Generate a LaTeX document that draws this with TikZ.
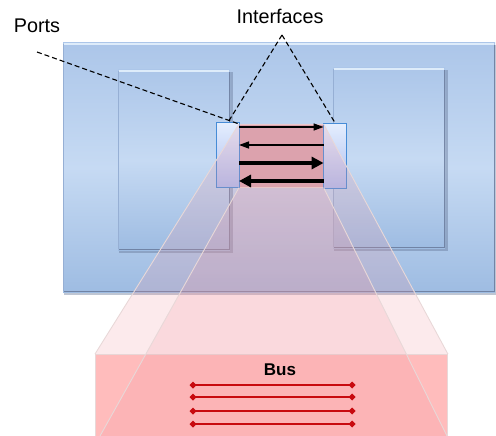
\documentclass[tikz,border=0pt]{standalone}
\usepackage{fontspec}
\setmainfont{Liberation Sans}
\usetikzlibrary{arrows.meta}
\definecolor{bluetop}{RGB}{172,198,233}
\definecolor{bluemid}{RGB}{198,218,243}
\definecolor{bluebot}{RGB}{158,188,226}
\definecolor{blueshade}{RGB}{95,112,145}
\definecolor{bluelight}{RGB}{222,236,250}
\definecolor{blueside}{RGB}{150,175,212}
\definecolor{bluedark}{RGB}{105,122,155}
\definecolor{porttop}{RGB}{228,238,254}
\definecolor{portbot}{RGB}{172,188,238}
\definecolor{portedge}{RGB}{70,140,215}
\definecolor{chanpink}{RGB}{215,166,177}
\definecolor{beampink}{RGB}{240,150,160}
\definecolor{beamedge}{RGB}{232,216,216}
\definecolor{buspink}{RGB}{255,188,188}
\definecolor{wirered}{RGB}{200,10,15}
\tikzset{
  panel/.style={top color=bluetop, bottom color=bluebot, middle color=bluemid, draw=none},
  panelshadow/.style={fill=blueshade, draw=none, opacity=0.4},
  highlight/.style={draw=bluelight, line width=2pt},
  sidebevel/.style={draw=blueside, line width=1.2pt},
  bevel/.style={draw=bluedark, line width=1.5pt, opacity=0.85},
  portbox/.style={draw=portedge, line width=1.3pt, top color=porttop, bottom color=portbot,
    inner sep=0pt, minimum width=23pt, minimum height=65pt, anchor=north west},
  chanbox/.style={fill=chanpink, draw=beamedge, line width=0.6pt, inner sep=0pt,
    minimum width=84pt, minimum height=63pt, anchor=north west},
  beam/.style={fill=beampink, fill opacity=0.2},
  beamline/.style={draw=beamedge, line width=0.9pt},
  thinflow/.style={line width=1.3pt, -{Triangle[length=10pt,width=7pt]}},
  thickflow/.style={line width=3.6pt, -{Triangle[length=12pt,width=12pt]}},
  leader/.style={draw=black, dash pattern=on 5pt off 3pt, line width=1.1pt},
  label/.style={font=\fontsize{19.8}{24}\selectfont, inner sep=0pt, anchor=base},
  wire/.style={draw=wirered, line width=1.5pt,
    {Diamond[length=7pt,width=7pt]}-{Diamond[length=7pt,width=7pt]}}
}
% raised panel: drop shadow, vertical gradient, light top, soft left and dark bottom/right edges
\newcommand\bevelbox[4]{%
  \fill[panelshadow] ({#1+1},{#2+2}) rectangle ({#3+2.5},{#4+3});
  \shade[panel] (#1,#2) rectangle (#3,#4);
  \draw[sidebevel] ({#1+0.6},{#2+1}) -- ({#1+0.6},{#4-1});
  \draw[highlight] ({#1+0.5},{#2+1}) -- ({#3-1},{#2+1});
  \draw[bevel] ({#1+1},{#4-0.75}) -- ({#3-0.75},{#4-0.75}) -- ({#3-0.75},{#2+2});
}
\begin{document}
\begin{tikzpicture}[x=1pt,y=-1pt]
\useasboundingbox (0,0) rectangle (496,436);

% outer module and its two sub-blocks
\bevelbox{63}{43}{495}{292}
\bevelbox{118}{70}{230}{250}
\bevelbox{333}{68}{445}{248}

% channel between the ports
\node[chanbox] (chan) at (239,124) {};
\node[portbox] (lport) at (216,122) {};
\node[portbox] (rport) at (323,123) {};

% bus box at the bottom
\node[fill=buspink, draw=beamedge, line width=0.9pt, inner sep=0pt,
      minimum width=352pt, minimum height=90pt, anchor=north west] (busbox) at (95,354) {};
\coordinate (bl) at (100,436);
\coordinate (br) at (447,436);

% magnifying beam from the channel to the bus
\fill[beam] (chan.north west) -- (chan.north east) -- (busbox.north east) -- (busbox.north west) -- cycle;
\fill[beam] (chan.south west) -- (chan.south east) -- (br) -- (bl) -- cycle;
\draw[beamline] (chan.north west) -- (busbox.north west);
\draw[beamline] (chan.north east) -- (busbox.north east);
\draw[beamline] (chan.south west) -- (bl);
\draw[beamline] (chan.south east) -- (br);

% flows across the interface
\draw[thinflow] ([yshift=-3pt]chan.north west) -- ([yshift=-3pt]chan.north east);
\draw[thinflow] ([yshift=-21pt]chan.north east) -- ([yshift=-21pt]chan.north west);
\draw[thickflow] ([yshift=-39pt]chan.north west) -- ([yshift=-39pt]chan.north east);
\draw[thickflow] ([yshift=-57pt]chan.north east) -- ([yshift=-57pt]chan.north west);

% labels and leaders
\node[label] (ports) at (37,33) {Ports};
\node[label] (ifaces) at (280,24) {Interfaces};
\coordinate (portsfoot) at (37,52);
\coordinate (apex) at (282,35);
\draw[leader] (portsfoot) -- (chan.north west);
\draw[leader] (apex) -- (lport.north);
\draw[leader] (apex) -- (rport.north);

% bus wires
\node[font=\fontsize{17}{20}\selectfont\bfseries, inner sep=0pt, anchor=base] (buslabel) at (280,375) {Bus};
\foreach \y/\n in {385/w1,397/w2,411/w3,424/w4}{
  \coordinate (\n a) at (189.5,\y);
  \coordinate (\n b) at (355.5,\y);
  \draw[wire] (\n a) -- (\n b);
}
\end{tikzpicture}
\end{document}
